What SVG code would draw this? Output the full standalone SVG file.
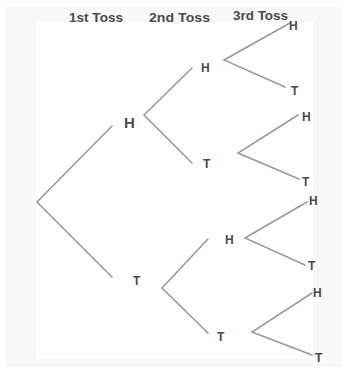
<svg xmlns="http://www.w3.org/2000/svg" width="342" height="369" viewBox="0 0 342 369">
<style>
.e{stroke:#9a9a9a;stroke-width:1.6;fill:none;stroke-linecap:round}
.l{font-family:"Liberation Sans",Arial,sans-serif;font-weight:bold;fill:#4a4a4a}
.h{font-size:13px}
.n{font-size:12px}
</style>
<rect x="0" y="0" width="342" height="369" fill="#ffffff"/>
<rect x="5" y="7" width="337" height="360" fill="#f8f8f8"/>
<rect x="36" y="22" width="277" height="337" fill="#ffffff"/>
<g id="headers">
<text class="l h" x="69" y="22" textLength="54" lengthAdjust="spacingAndGlyphs">1st Toss</text>
<text class="l h" x="149" y="22" textLength="61" lengthAdjust="spacingAndGlyphs">2nd Toss</text>
<text class="l h" x="233" y="20" textLength="55" lengthAdjust="spacingAndGlyphs">3rd Toss</text>
</g>
<g id="connectors">
<polyline class="e" points="112,126 37,202 112,277"/>
<polyline class="e" points="192,68 144,115 192,163"/>
<polyline class="e" points="208,239 162,288 208,333"/>
<polyline class="e" points="290,23 224,60 285,87"/>
<polyline class="e" points="298,115 238,153 299,179"/>
<polyline class="e" points="307,202 245,238 305,265"/>
<polyline class="e" points="312,293 252,332 312,355"/>
</g>
<g id="n1H"><text class="l" font-size="15" x="124" y="128">H</text></g>
<g id="n1T"><text class="l n" x="133" y="285">T</text></g>
<g id="n2HH"><text class="l n" x="201" y="72">H</text></g>
<g id="n2HT"><text class="l n" x="203" y="168">T</text></g>
<g id="n2TH"><text class="l n" x="225" y="244">H</text></g>
<g id="n2TT"><text class="l n" x="217" y="341">T</text></g>
<g id="n3HHH"><text class="l n" x="289" y="30">H</text></g>
<g id="n3HHT"><text class="l n" x="291" y="95">T</text></g>
<g id="n3HTH"><text class="l n" x="302" y="121">H</text></g>
<g id="n3HTT"><text class="l n" x="302" y="186">T</text></g>
<g id="n3THH"><text class="l n" x="309" y="205">H</text></g>
<g id="n3THT"><text class="l n" x="308" y="270">T</text></g>
<g id="n3TTH"><text class="l n" x="313" y="297">H</text></g>
<g id="n3TTT"><text class="l n" x="315" y="362">T</text></g>
</svg>
